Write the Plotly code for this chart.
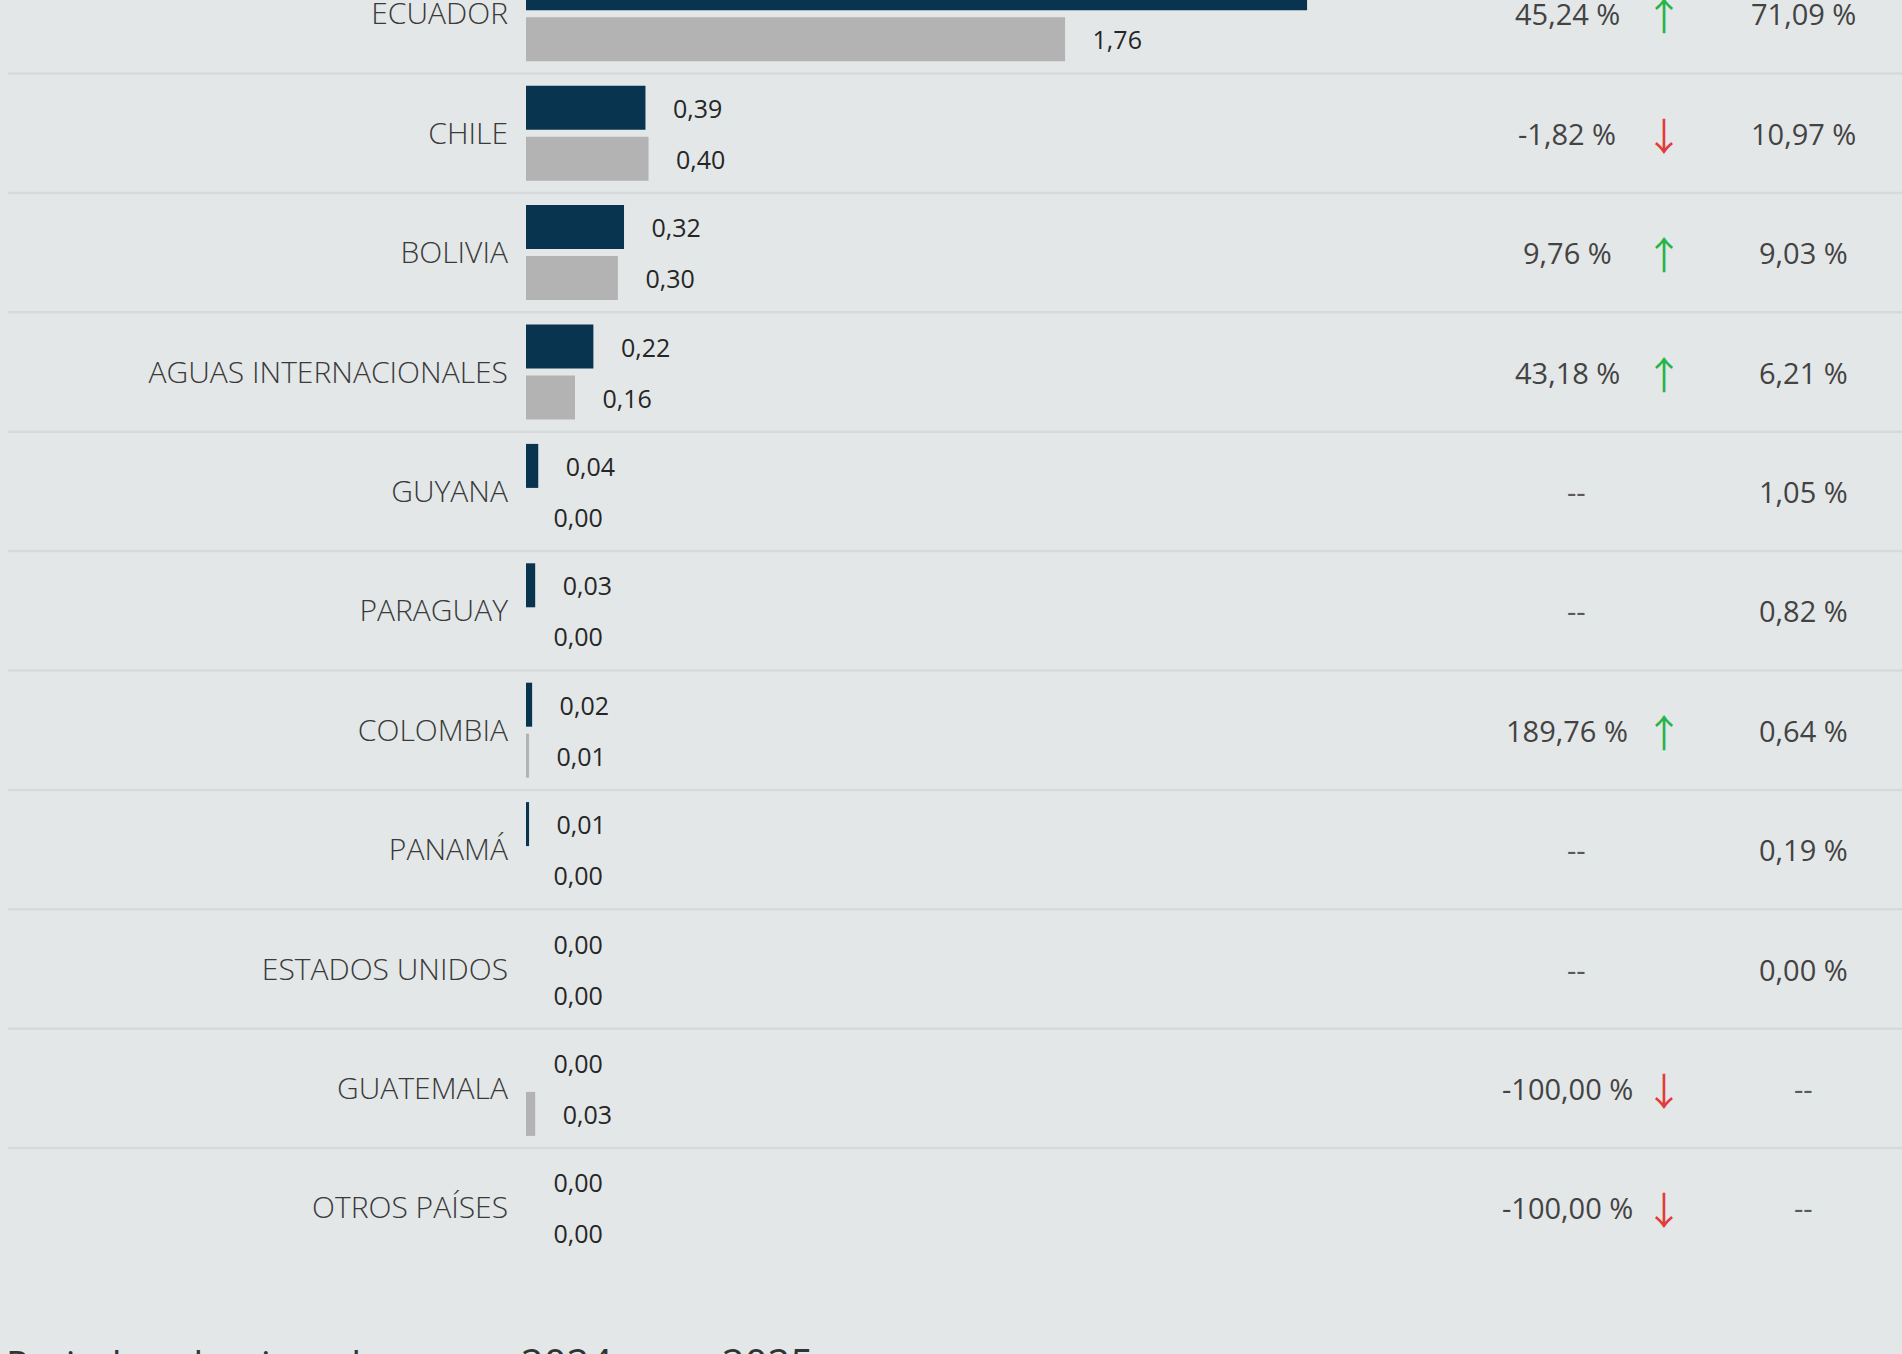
import plotly.graph_objects as go

# ---------------- data ----------------
countries = ["ECUADOR", "CHILE", "BOLIVIA", "AGUAS INTERNACIONALES", "GUYANA",
             "PARAGUAY", "COLOMBIA", "PANAMÁ", "ESTADOS UNIDOS", "GUATEMALA",
             "OTROS PAÍSES"]
values_2025 = [2.55, 0.39, 0.32, 0.22, 0.04, 0.03, 0.02, 0.01, 0.00, 0.00, 0.00]
values_2024 = [1.76, 0.40, 0.30, 0.16, 0.00, 0.00, 0.01, 0.00, 0.00, 0.03, 0.00]
variation_pct = [45.24, -1.82, 9.76, 43.18, None, None, 189.76, None, None, -100.00, -100.00]
share_pct = [71.09, 10.97, 9.03, 6.21, 1.05, 0.82, 0.64, 0.19, 0.00, None, None]
series_names = ["2024", "2025"]
legend_title = "Periodo seleccionado"

# ---------------- style ----------------
BG = "#e3e7e8"
C2024 = "#b3b3b3"
C2025 = "#08344f"
SEP = "#d6dadc"
GREEN = "#27b449"
RED = "#e23b3b"
FONT = "Open Sans"

W, H = 1902, 1354
ML, MT, MB = 526, 0, 54
PW = W - ML
PH = H - MT - MB
PX_PER_UNIT = 306.3
ROW_PX = 119.4
ROW0_CENTER_PX = 13.8
BAR_W = 44 / ROW_PX
BAR_OFF = 25.5 / ROW_PX
NBSP = "\u00a0"


def fmt(v, suffix=""):
    return f"{v:.2f}".replace(".", ",") + suffix


n = len(countries)
rows = list(range(n))
y_top = -ROW0_CENTER_PX / ROW_PX
y_bottom = y_top + PH / ROW_PX

fig = go.Figure()
for name, vals, col, off in [(series_names[0], values_2024, C2024, BAR_OFF),
                             (series_names[1], values_2025, C2025, -BAR_OFF)]:
    fig.add_trace(go.Bar(
        name=name, orientation="h",
        x=vals, y=[r + off for r in rows], width=BAR_W,
        marker=dict(color=col, line=dict(width=0)),
        text=[fmt(v) for v in vals],
        texttemplate=NBSP * 3 + "\u200a\u200a%{text}",
        textposition="outside", constraintext="none",
        textfont=dict(family=FONT, size=25, color="#262626"),
        cliponaxis=False, hoverinfo="skip",
    ))

# separators between rows
x_sep0 = (8 - ML) / PW
shapes = []
for r in rows[:-1]:
    shapes.append(dict(type="line", xref="paper", yref="y", x0=x_sep0, x1=1.0,
                       y0=r + 0.5, y1=r + 0.5, line=dict(color=SEP, width=2.5),
                       layer="below"))

# right-hand columns
x_var = (1567 - ML) / PW
x_arrow = (1664 - ML) / PW
x_share = (1803 - ML) / PW
annotations = []
for r, v, s in zip(rows, variation_pct, share_pct):
    if v is None:
        annotations.append(dict(x=x_var, y=r, xref="paper", yref="y", text="--",
                                showarrow=False, xanchor="center", yanchor="middle",
                                xshift=9, font=dict(family=FONT, size=29, color="#5a5a5a")))
    else:
        annotations.append(dict(x=x_var, y=r, xref="paper", yref="y", text=fmt(v, " %"),
                                showarrow=False, xanchor="center", yanchor="middle",
                                font=dict(family=FONT, size=29, color="#434343")))
        up = v > 0
        annotations.append(dict(x=x_arrow, y=r, xref="paper", yref="y",
                                text="↑" if up else "↓",
                                showarrow=False, xanchor="center", yanchor="middle",
                                font=dict(family="Noto Sans CJK JP", size=38,
                                          color=GREEN if up else RED)))
    annotations.append(dict(x=x_share, y=r, xref="paper", yref="y",
                            text="--" if s is None else fmt(s, " %"),
                            showarrow=False, xanchor="center", yanchor="middle",
                            font=dict(family=FONT, size=29,
                                      color="#5a5a5a" if s is None else "#434343")))

fig.update_layout(
    width=W, height=H,
    margin=dict(l=ML, r=0, t=MT, b=MB, pad=0, autoexpand=False),
    paper_bgcolor=BG, plot_bgcolor=BG,
    barmode="overlay",
    font=dict(family=FONT, color="#333333"),
    showlegend=True,
    legend=dict(orientation="h", x=(4 - ML) / PW, xanchor="left",
                y=-(30 / PH), yanchor="top",
                title=dict(text=legend_title + NBSP * 9,
                           font=dict(family=FONT, size=38, color="#333333")),
                font=dict(family=FONT, size=40, color="#333333"),
                entrywidth=156, entrywidthmode="pixels",
                bgcolor="rgba(0,0,0,0)"),
    xaxis=dict(range=[0, PW / PX_PER_UNIT], visible=False, fixedrange=True),
    yaxis=dict(range=[y_bottom, y_top], tickmode="array", tickvals=rows, ticktext=countries,
               showgrid=False, zeroline=False, showline=False, ticks="",
               ticklabelstandoff=17, ticklabeloverflow="allow",
               tickfont=dict(family=FONT, size=30, color="#3a3a3a", weight=300),
               fixedrange=True),
    shapes=shapes,
    annotations=annotations,
)

fig.write_html("out.html", config={"displayModeBar": False},
               post_script="document.body.style.margin='0';document.body.style.overflow='hidden';")
